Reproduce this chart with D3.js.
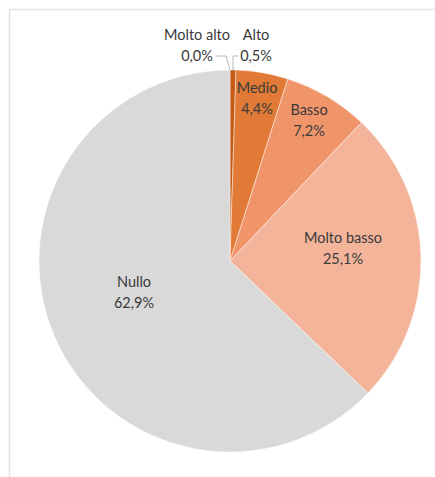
<!DOCTYPE html>
<meta charset="utf-8">
<style>
  body { margin: 0; background: #fff; }
  svg text { font-family: "Lato", "Liberation Sans", sans-serif; font-size: 14.5px; fill: #3a3a3a; }
</style>
<svg id="chart" width="435" height="477"></svg>
<script src="https://cdn.jsdelivr.net/npm/d3@7"></script>
<script>

var categorie = ["Molto alto", "Alto", "Medio", "Basso", "Molto basso", "Nullo"];
var valori = [0.0, 0.5, 4.4, 7.2, 25.1, 62.9];
var colori = ["#843c0c", "#c55a11", "#e07a36", "#f0956a", "#f3b49a", "#d9d9d9"];

var svg = d3.select("#chart"),
    width = +svg.attr("width"),
    height = +svg.attr("height");

// chart frame
svg.append("path")
    .attr("d", "M9.5," + height + "V9.5H" + width)
    .attr("fill", "none")
    .attr("stroke", "#e4e4e4")
    .attr("stroke-width", 1.5);

var cx = 230, cy = 261, raggio = 191;

var dati = categorie.map(function(c, i) { return {nome: c, valore: valori[i], colore: colori[i]}; });

var pie = d3.pie().sort(null).value(function(d) { return d.valore; });
var arc = d3.arc().innerRadius(0).outerRadius(raggio);
var archi = pie(dati);

var g = svg.append("g").attr("transform", "translate(" + cx + "," + cy + ")");

g.selectAll("path.fetta")
  .data(archi)
  .enter().append("path")
    .attr("class", "fetta")
    .attr("d", arc)
    .attr("fill", function(d) { return d.data.colore; })
    .attr("stroke", "#fff")
    .attr("stroke-opacity", 0.6)
    .attr("stroke-width", 0.75);

function fmt(v) { return v.toFixed(1).replace(".", ",") + "%"; }

// label positions (offset from centre)
var etichette = {
  "Molto alto": [-33, -221, true],
  "Alto": [26, -221, true],
  "Medio": [27, -168],
  "Basso": [79, -146],
  "Molto basso": [113, -18],
  "Nullo": [-96, 26]
};

archi.forEach(function(d) {
  var p = etichette[d.data.nome];
  var t = g.append("text")
      .attr("text-anchor", "middle")
      .attr("x", p[0])
      .attr("y", p[1]);
  t.append("tspan").attr("x", p[0]).text(d.data.nome);
  t.append("tspan").attr("x", p[0]).attr("dy", 20.5).text(fmt(d.data.valore));

  if (p[2]) {
    // leader line from label to the slice edge
    var mid = (d.startAngle + d.endAngle) / 2;
    var ex = Math.sin(mid) * raggio, ey = -Math.cos(mid) * raggio;
    var ly = p[1] + 16;
    var pts = d.data.nome === "Molto alto"
      ? [[-14, ly], [-4, ly], [ex, ey]]
      : [[8, ly], [3, ly], [3, ey]];
    g.append("path")
        .attr("d", d3.line()(pts))
        .attr("fill", "none")
        .attr("stroke", "#a6a6a6")
        .attr("stroke-width", 0.8);
  }
});
</script>
